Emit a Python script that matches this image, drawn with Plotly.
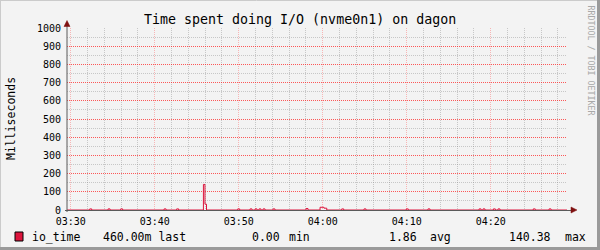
import plotly.graph_objects as go

# ---------------- data ----------------
day = "2024-01-01 "
times = [
    "03:29:30",
    "03:32:16", "03:32:30",
    "03:34:27", "03:34:41",
    "03:35:57", "03:36:11",
    "03:41:07", "03:41:21",
    "03:42:37", "03:42:51",
    "03:45:48", "03:45:59", "03:46:10",
    "03:49:53", "03:50:07",
    "03:51:21", "03:51:35",
    "03:51:57", "03:52:11",
    "03:52:25", "03:52:39",
    "03:52:54", "03:53:08",
    "03:54:05", "03:54:19",
    "03:58:01", "03:58:15",
    "03:59:41", "04:00:09", "04:00:29",
    "04:02:16", "04:02:30",
    "04:04:55", "04:05:09",
    "04:09:57", "04:10:11",
    "04:12:32", "04:12:46",
    "04:18:37", "04:18:51",
    "04:19:05", "04:19:19",
    "04:20:19", "04:20:33",
    "04:20:52", "04:21:06",
    "04:25:04", "04:25:18",
    "04:26:57", "04:27:11",
    "04:29:10",
]
io_time = [
    0,
    6, 0,
    6, 0,
    6, 0,
    6, 0,
    6, 0,
    140.38, 32, 0,
    6, 0,
    6, 0,
    6, 0,
    6, 0,
    6, 0,
    6, 0,
    8, 0,
    15, 10, 0,
    6, 0,
    6, 0,
    6, 0,
    6, 0,
    6, 0,
    6, 0,
    6, 0,
    6, 0,
    6, 0,
    6, 0,
    0,
]
x_ticks = ["03:30", "03:40", "03:50", "04:00", "04:10", "04:20"]
x_minor = ["03:32", "03:34", "03:36", "03:38", "03:42", "03:44", "03:46", "03:48",
           "03:52", "03:54", "03:56", "03:58", "04:02", "04:04", "04:06", "04:08",
           "04:12", "04:14", "04:16", "04:18", "04:22", "04:24", "04:26", "04:28"]
y_ticks = [0, 100, 200, 300, 400, 500, 600, 700, 800, 900, 1000]
y_minor = [50, 150, 250, 350, 450, 550, 650, 750, 850, 950]

title = "Time spent doing I/O (nvme0n1) on dagon"
y_title = "Milliseconds"
legend_name = "io_time"
legend_stats = [("460.00m last", 101), ("0.00", 250), ("min", 286.5), ("1.86", 386.5),
                ("avg", 427.5), ("140.38", 506.5), ("max", 562.5)]

# ---------------- layout geometry ----------------
W, H = 600, 250
L, R, T, B = 67, 567, 28, 210
BG = "#F3F3F3"
LINE_COL = "#DC143C"
MONO = "DejaVu Sans Mono"
MAJOR_GRID_X = "rgba(255,50,50,0.32)"
MAJOR_GRID_Y = "rgba(255,20,20,0.70)"
MINOR_GRID = "rgba(130,130,130,0.38)"


def px(x):
    return (x - L) / (R - L)


def py(y):
    return (B - y) / (B - T)


x_full = [day + t for t in times]

fig = go.Figure()
fig.add_trace(go.Scatter(
    x=x_full, y=io_time, mode="lines", line=dict(color=LINE_COL, width=1, shape="hv"),
    showlegend=False, hoverinfo="skip",
))

fig.update_layout(
    width=W, height=H,
    margin=dict(l=L, r=W - R, t=T, b=H - B, pad=0),
    paper_bgcolor=BG, plot_bgcolor=BG,
    showlegend=False,
    font=dict(family=MONO, size=10, color="#000000"),
)

fig.update_xaxes(
    type="date",
    range=[day + "03:29:33.6", day + "04:29:05"],
    tickvals=[day + t for t in x_ticks], ticktext=x_ticks,
    showgrid=True, gridcolor=MAJOR_GRID_X, griddash="1px,1px", gridwidth=1,
    minor=dict(tickvals=[day + t for t in x_minor], showgrid=True,
               gridcolor=MINOR_GRID, griddash="1px,1px", gridwidth=1),
    zeroline=False, showline=False, ticks="", ticklabelstandoff=4,
    tickfont=dict(family=MONO, size=10, color="#000000"),
    fixedrange=True,
)
fig.update_yaxes(
    range=[0, 1000],
    tickvals=y_ticks, ticktext=[str(v) for v in y_ticks],
    showgrid=True, gridcolor=MAJOR_GRID_Y, griddash="1px,1px", gridwidth=1,
    minor=dict(tickvals=y_minor, showgrid=True,
               gridcolor=MINOR_GRID, griddash="1px,1px", gridwidth=1),
    zeroline=False, showline=False, ticks="", ticklabelstandoff=5,
    tickfont=dict(family=MONO, size=10, color="#000000"),
    fixedrange=True,
)

shapes = []
# frame border (3D look)
shapes.append(dict(type="line", xref="paper", yref="paper", x0=px(0), x1=px(W), y0=py(0.5), y1=py(0.5),
                   line=dict(color="#CBCBCB", width=1), layer="above"))
shapes.append(dict(type="line", xref="paper", yref="paper", x0=px(0.5), x1=px(0.5), y0=py(0), y1=py(H),
                   line=dict(color="#CBCBCB", width=1), layer="above"))
shapes.append(dict(type="rect", xref="paper", yref="paper", x0=px(W - 3), x1=px(W), y0=py(0), y1=py(H),
                   line=dict(width=0), fillcolor="#9A9A9A", layer="above"))
shapes.append(dict(type="rect", xref="paper", yref="paper", x0=px(0), x1=px(W), y0=py(H - 3), y1=py(H),
                   line=dict(width=0), fillcolor="#9A9A9A", layer="above"))
# axes
shapes.append(dict(type="line", xref="paper", yref="paper", x0=px(67), x1=px(67), y0=py(212), y1=py(24),
                   line=dict(color="#5A5A5A", width=1), layer="above"))
shapes.append(dict(type="line", xref="paper", yref="paper", x0=px(65), x1=px(573), y0=py(210.5), y1=py(210.5),
                   line=dict(color="#5A5A5A", width=1), layer="above"))
# arrows
shapes.append(dict(type="path", xref="paper", yref="paper",
                   path=f"M {px(64)} {py(26.5)} L {px(67)} {py(20.5)} L {px(70)} {py(26.5)} Z",
                   fillcolor="#7F1010", line=dict(color="#7F1010", width=0.5), layer="above"))
shapes.append(dict(type="path", xref="paper", yref="paper",
                   path=f"M {px(571)} {py(207)} L {px(577)} {py(210)} L {px(571)} {py(213)} Z",
                   fillcolor="#7F1010", line=dict(color="#7F1010", width=0.5), layer="above"))
# legend swatch
shapes.append(dict(type="rect", xref="paper", yref="paper", x0=px(15), x1=px(23), y0=py(232), y1=py(241),
                   fillcolor=LINE_COL, line=dict(color="#000000", width=1), layer="above"))

annotations = []
annotations.append(dict(text=title, xref="paper", yref="paper", x=px(300), y=py(19.5),
                        xanchor="center", yanchor="middle", showarrow=False,
                        font=dict(family=MONO, size=13.3, color="#000000")))
annotations.append(dict(text=y_title, xref="paper", yref="paper", x=px(11), y=py(119),
                        xanchor="center", yanchor="middle", showarrow=False, textangle=-90,
                        font=dict(family=MONO, size=11.5, color="#000000")))
annotations.append(dict(text="RRDTOOL / TOBI OETIKER", xref="paper", yref="paper", x=px(590.5), y=py(60),
                        xanchor="center", yanchor="middle", showarrow=False, textangle=90,
                        font=dict(family=MONO, size=8.3, color="#A8A8A8")))
annotations.append(dict(text=legend_name, xref="paper", yref="paper", x=px(29.5), y=py(236.5),
                        xanchor="left", yanchor="middle", showarrow=False,
                        font=dict(family=MONO, size=11.5, color="#000000")))
for txt, xpos in legend_stats:
    annotations.append(dict(text=txt, xref="paper", yref="paper", x=px(xpos), y=py(236.5),
                            xanchor="left", yanchor="middle", showarrow=False,
                            font=dict(family=MONO, size=11.5, color="#000000")))

fig.update_layout(shapes=shapes, annotations=annotations)
fig.write_html("out.html")
